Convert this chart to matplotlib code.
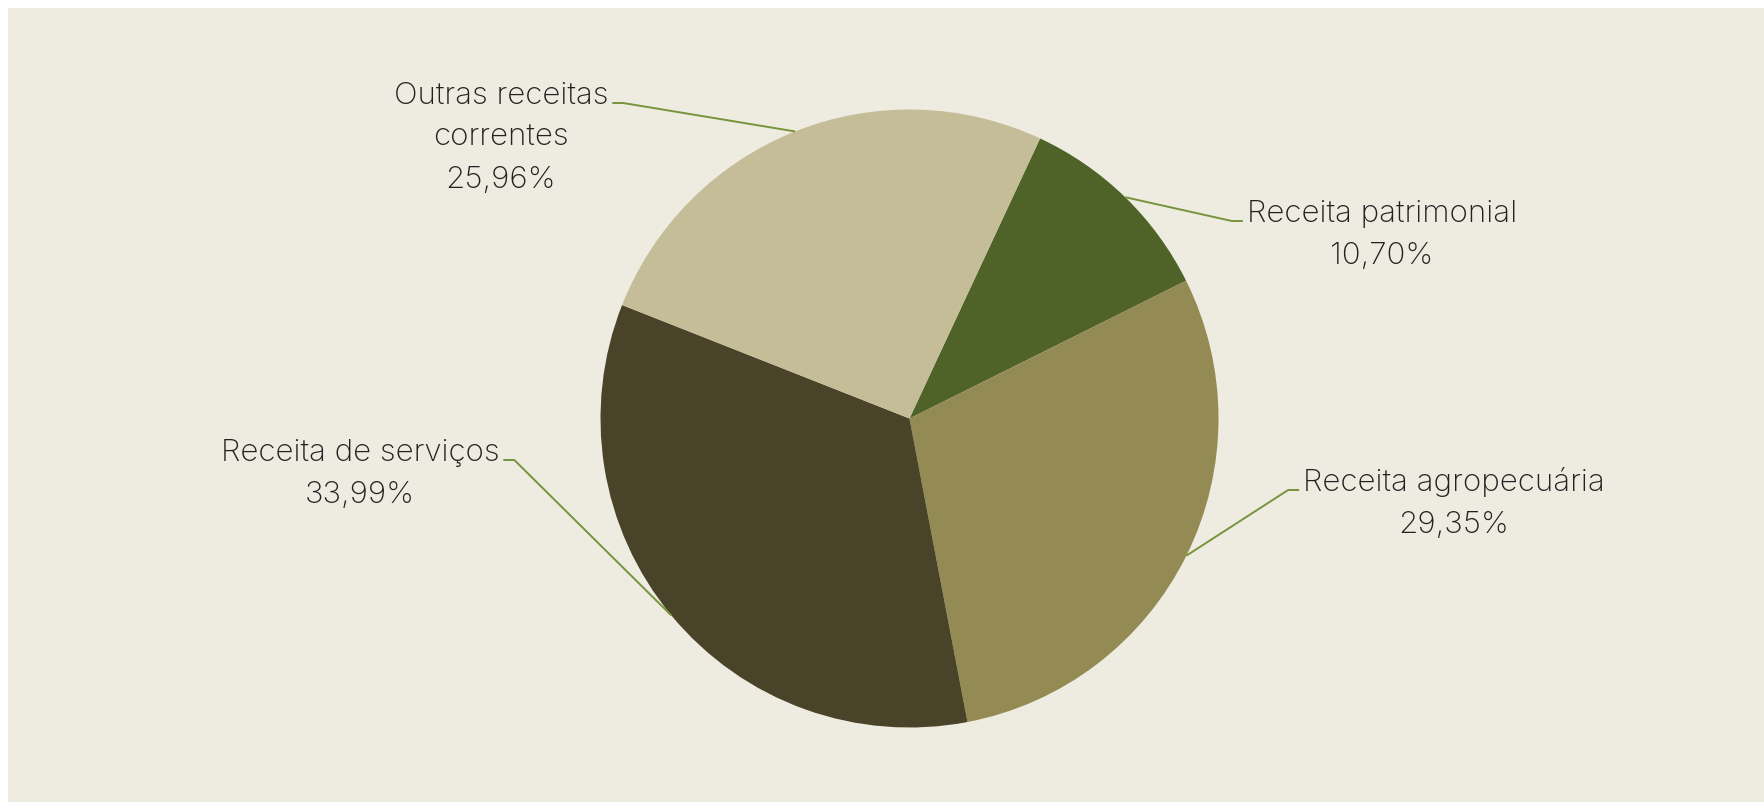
import numpy as np
import matplotlib
matplotlib.use('Agg')
import matplotlib.pyplot as plt
from matplotlib.patches import Rectangle

# data, clockwise from the first wedge
names   = ['Receita patrimonial', 'Receita agropecuária', 'Receita de serviços', 'Outras receitas\ncorrentes']
shares  = [10.70, 29.35, 33.99, 25.96]
colours = ['#4f6228', '#948a54', '#494429', '#c4bd97']

# label layout in pixels from top-left (x centre of text, baseline of first line, side of leader)
W, H = 1765, 803
label_pos = [(1382, 222, 'left'), (1454, 491, 'left'), (360, 461, 'right'), (501, 104, 'right')]
centre = (909.5, H - 419.5)
radius = 309
line_gap = 42

fig = plt.figure(figsize=(W / 100, H / 100), dpi=100, facecolor='white')
ax = fig.add_axes([0, 0, 1, 1])

wedges, _ = ax.pie(shares, colors=colours, startangle=65, counterclock=False,
                   center=centre, radius=radius, wedgeprops=dict(linewidth=0))
ax.set_xlim(0, W)
ax.set_ylim(0, H)
ax.set_aspect('equal')
ax.axis('off')
ax.add_patch(Rectangle((8, 0), W - 8, H - 9, facecolor='#eeece1', edgecolor='none', zorder=0))
for w in wedges:
    w.set_zorder(1)

fnt = dict(family=['Inter', 'DejaVu Sans'], fontweight='light', fontsize=22.5, color='#222222')

for w, name, val, (tx, ty, side) in zip(wedges, names, shares, label_pos):
    mid = np.deg2rad((w.theta1 + w.theta2) / 2)
    px = centre[0] + radius * np.cos(mid)
    py = centre[1] + radius * np.sin(mid)
    ty = H - ty
    lines = name.split('\n') + [f'{val:.2f}%'.replace('.', ',')]
    for i, s in enumerate(lines):
        ax.text(tx, ty - i * line_gap, s, ha='center', va='baseline', zorder=3, **fnt)
    # leader: from wedge to elbow, then short flat run to the text
    first = ax.text(0, 0, lines[0], **fnt)
    fig.canvas.draw()
    half = first.get_window_extent().width / 2
    first.remove()
    if side == 'left':
        x_end = tx - half - 4
        x_elb = x_end - 11
    else:
        x_end = tx + half + 4
        x_elb = x_end + 11
    ax.plot([px, x_elb, x_end], [py, ty, ty], color='#77933c', lw=1.4, zorder=2,
            solid_capstyle='butt')

fig.savefig('out.png', dpi=100, facecolor='white')
